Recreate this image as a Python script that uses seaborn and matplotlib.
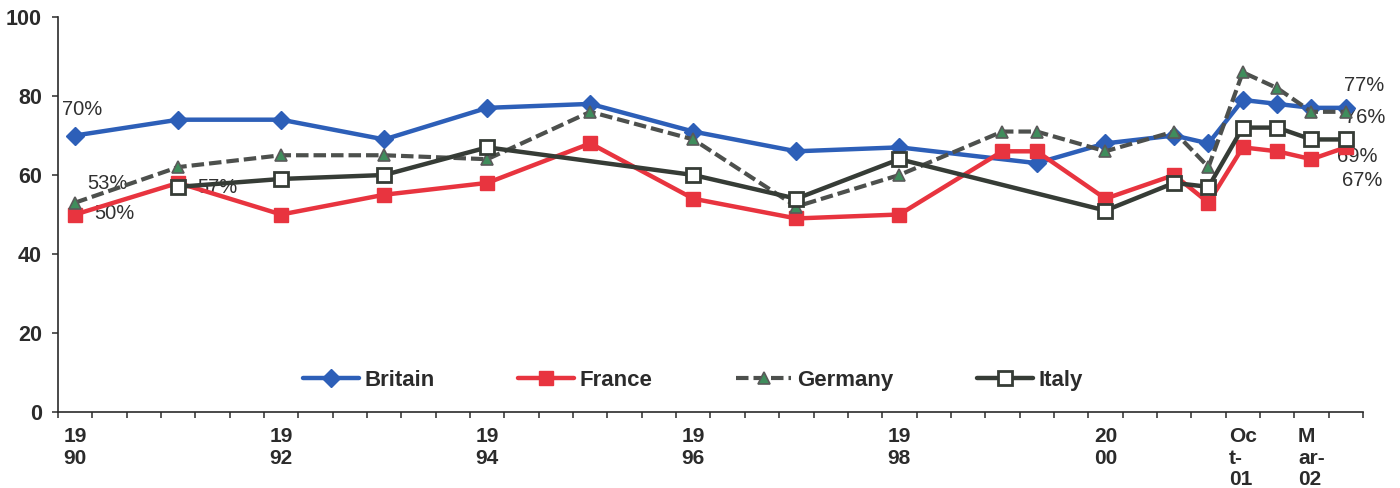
import numpy as np
import pandas as pd
import matplotlib
matplotlib.use("Agg")
import matplotlib.pyplot as plt
import seaborn as sns
from matplotlib.lines import Line2D

# Category axis: 38 equally spaced slots, survey waves sit on some of them
n_slots = 38
slots = [0, 3, 6, 9, 12, 15, 18, 21, 24, 27, 28, 30, 32, 33, 34, 35, 36, 37]
tick_slots = [0, 6, 12, 18, 24, 30, 34, 36]
tick_labels = ["19\n90", "19\n92", "19\n94", "19\n96", "19\n98", "20\n00",
               "Oc\nt-\n01", "M\nar-\n02"]

series_names = ["Britain", "France", "Germany", "Italy"]
britain = [70, 74, 74, 69, 77, 78, 71, 66, 67, np.nan, 63, 68, 70, 68, 79, 78, 77, 77]
france = [50, 58, 50, 55, 58, 68, 54, 49, 50, 66, 66, 54, 60, 53, 67, 66, 64, 67]
germany = [53, 62, 65, 65, 64, 76, 69, 52, 60, 71, 71, 66, 71, 62, 86, 82, 76, 76]
italy = [np.nan, 57, 59, 60, 67, np.nan, 60, 54, 64, np.nan, np.nan, 51, 58, 57, 72, 72, 69, 69]

sns.set_theme(style="white")
plt.rcParams["font.family"] = ["Liberation Sans", "DejaVu Sans"]

ink = "#2b2b2b"
styles = {
    "Britain": dict(color="#2d5fb8", marker="D", markersize=9, markerfacecolor="#2d5fb8",
                    markeredgecolor="#2d5fb8", markeredgewidth=1, linewidth=3.2, linestyle="-"),
    "France": dict(color="#e8343f", marker="s", markersize=10, markerfacecolor="#e8343f",
                   markeredgecolor="#e8343f", markeredgewidth=1, linewidth=3.2, linestyle="-"),
    "Germany": dict(color="#4d504d", marker="^", markersize=9, markerfacecolor="#3f8d5c",
                    markeredgecolor="#5a5a5a", markeredgewidth=1.2, linewidth=3.0,
                    linestyle=(0, (3, 1.2))),
    "Italy": dict(color="#363c36", marker="s", markersize=10.5, markerfacecolor="white",
                  markeredgecolor="#363c36", markeredgewidth=2, linewidth=3.2, linestyle="-"),
}

fig = plt.figure(figsize=(14, 4.88), dpi=100)
ax = fig.add_axes([58 / 1400, 76 / 488, 1305 / 1400, 395 / 488])

values = {"Britain": britain, "France": france, "Germany": germany, "Italy": italy}
for z, name in enumerate(series_names):
    df = pd.DataFrame({"slot": slots, "value": values[name]}).dropna()
    sns.lineplot(data=df, x="slot", y="value", ax=ax, legend=False, zorder=3 + z,
                 **styles[name])

# Value callouts at the first and last wave of each series (offsets in points)
callouts = [
    ("Britain", "first", 5, 19), ("Germany", "first", 23, 14),
    ("France", "first", 28, 0.5), ("Italy", "first", 28, -0.5),
    ("Britain", "last", 13, 16), ("Germany", "last", 14, -4),
    ("Italy", "last", 8, -12), ("France", "last", 11.5, -24),
]
for name, which, dx, dy in callouts:
    df = pd.DataFrame({"slot": slots, "value": values[name]}).dropna()
    row = df.iloc[0] if which == "first" else df.iloc[-1]
    ax.annotate(f"{int(row['value'])}%", xy=(row["slot"], row["value"]),
                xytext=(dx, dy), textcoords="offset points", ha="center", va="center",
                fontsize=14.5, color="#303030", annotation_clip=False, zorder=2)

ax.set_xlim(-0.5, n_slots - 0.5)
ax.set_ylim(0, 100)
ax.set_yticks(range(0, 101, 20))
ax.set_xticks(tick_slots)
ax.set_xticklabels(tick_labels, fontsize=15, fontweight="bold", color=ink,
                   multialignment="left", linespacing=1.15)
ax.set_xticks(np.arange(-0.5, n_slots, 1), minor=True)
ax.tick_params(axis="x", which="major", length=0, pad=11)
ax.tick_params(axis="x", which="minor", length=4, width=1.1, direction="out",
               color=ink, bottom=True)
ax.tick_params(axis="y", which="major", length=4.5, width=1.1, direction="out",
               color=ink, left=True, pad=7, labelsize=15.5, labelcolor=ink)
for lab in ax.get_yticklabels():
    lab.set_fontweight("bold")
ax.set_xlabel("")
ax.set_ylabel("")
ax.grid(False)
sns.despine(ax=ax)
for side in ("left", "bottom"):
    ax.spines[side].set_color(ink)
    ax.spines[side].set_linewidth(1.2)

handles = [Line2D([], [], **styles[n]) for n in series_names]
leg = ax.legend(handles, series_names, loc="center", bbox_to_anchor=(0.4866, 0.081),
                ncol=4, frameon=False, prop={"size": 16, "weight": "bold"},
                handlelength=2.5, columnspacing=3.75, handletextpad=0.27)
for t in leg.get_texts():
    t.set_color(ink)

fig.savefig("out.png", dpi=100)
